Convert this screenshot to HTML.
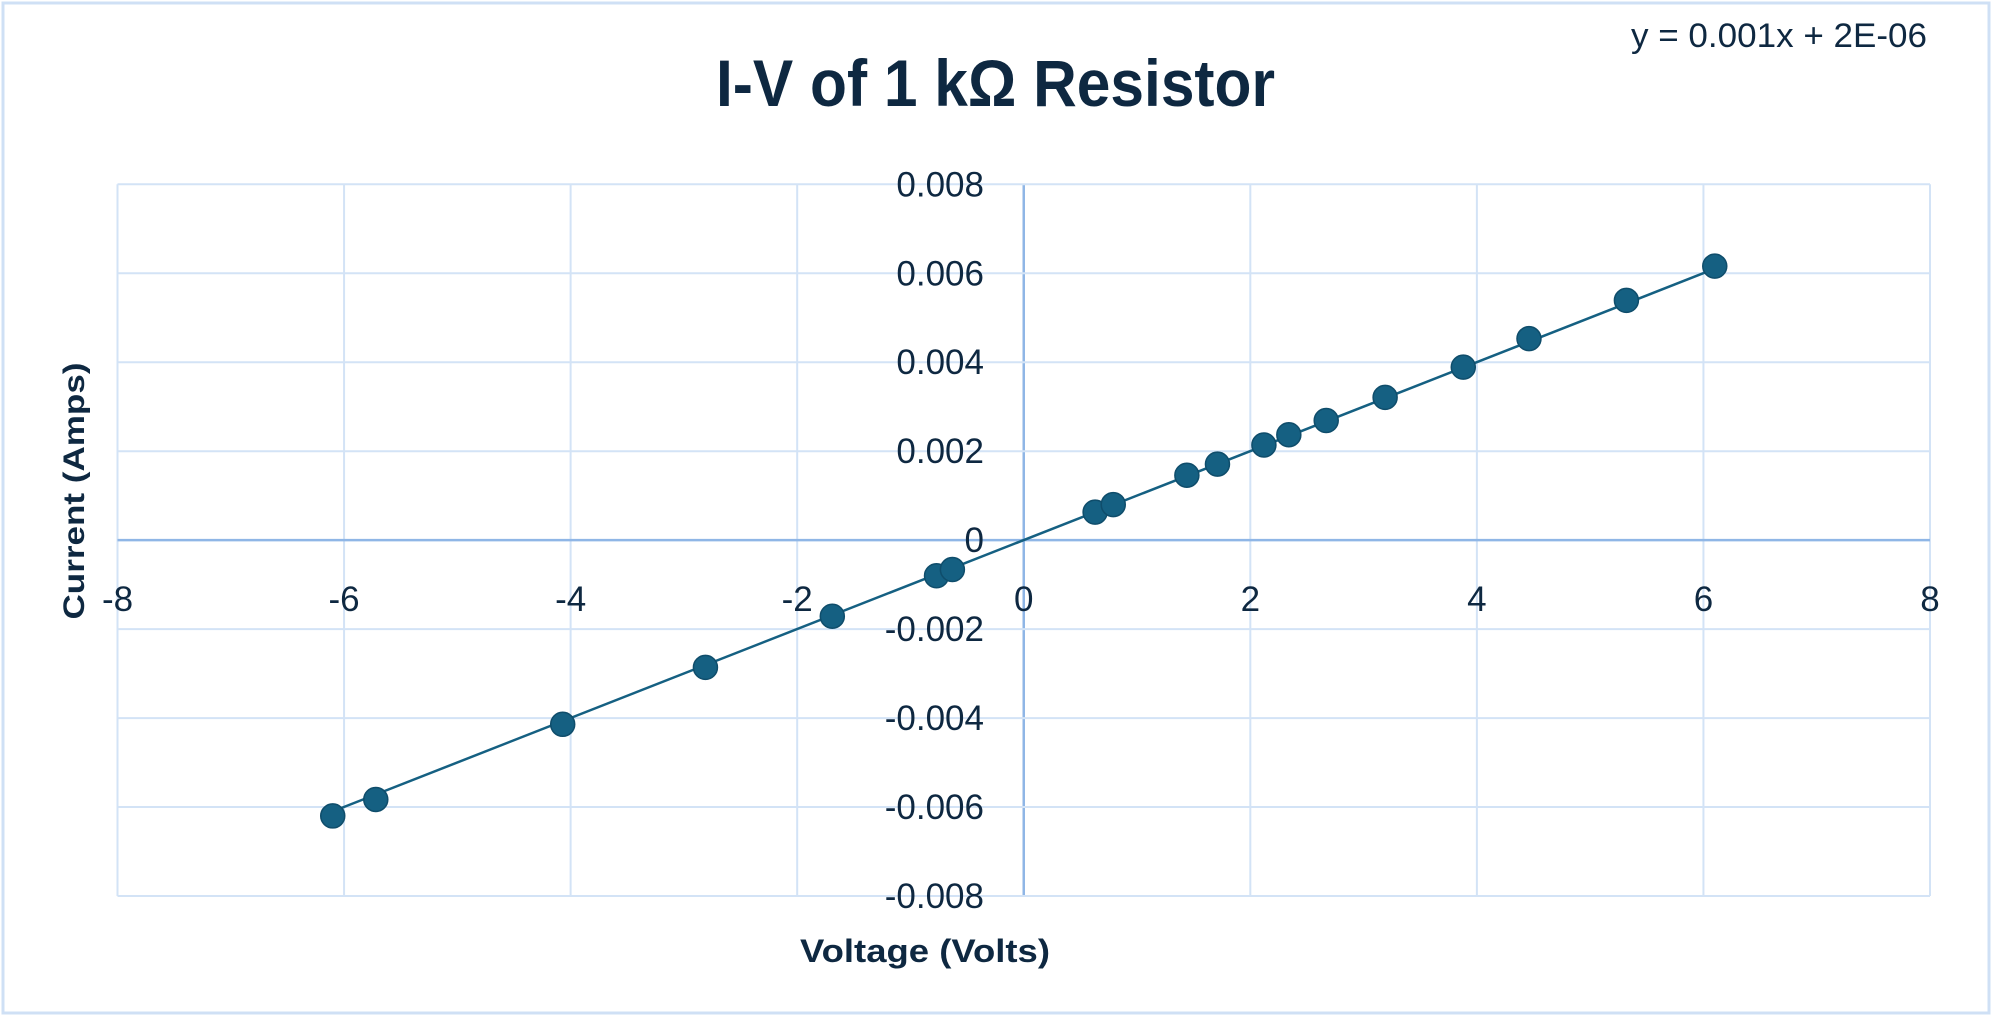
<!DOCTYPE html>
<html><head><meta charset="utf-8"><style>
html,body{margin:0;padding:0;background:#fff;}
svg{display:block;}
text{font-family:"Liberation Sans",sans-serif;fill:#0e2841;}
</style></head><body>
<svg id="chart" width="1998" height="1017" viewBox="0 0 1998 1017">
<rect x="3" y="3" width="1986" height="1010" fill="#fff" stroke="#cfe0f5" stroke-width="3"/>
<text x="716" y="106" font-size="66" font-weight="bold" textLength="559" lengthAdjust="spacingAndGlyphs">I-V of 1 kΩ Resistor</text>
<text x="1631" y="47" font-size="34" textLength="296" lengthAdjust="spacingAndGlyphs">y = 0.001x + 2E-06</text>
<g id="grid"></g>
<g id="ticks"></g>
<g id="series"></g>
<text x="925" y="962" font-size="32" font-weight="bold" text-anchor="middle" textLength="250" lengthAdjust="spacingAndGlyphs">Voltage (Volts)</text>
<text transform="translate(84,491) rotate(-90)" font-size="30" font-weight="bold" text-anchor="middle" textLength="257" lengthAdjust="spacingAndGlyphs">Current (Amps)</text>
</svg>
<script>
const xTicks=[-8,-6,-4,-2,0,2,4,6,8];
const yTicks=[-0.008,-0.006,-0.004,-0.002,0,0.002,0.004,0.006,0.008];
const yTickLabels=["-0.008","-0.006","-0.004","-0.002","0","0.002","0.004","0.006","0.008"];
const voltage=[-6.10,-5.72,-4.07,-2.81,-1.69,-0.77,-0.63,0.63,0.79,1.44,1.71,2.12,2.34,2.67,3.19,3.88,4.46,5.32,6.10];
const current=[-0.0062,-0.00583,-0.00414,-0.00286,-0.00171,-0.0008,-0.00066,0.00063,0.0008,0.00146,0.00171,0.00214,0.00237,0.00269,0.00321,0.00389,0.00453,0.00539,0.00616];
const slope=0.001, intercept=0.000002;
const L=117.5,R=1930,T=184.3,B=896;
const sx=v=>L+(v+8)/16*(R-L);
const sy=v=>B-(v+0.008)/0.016*(B-T);
const NS="http://www.w3.org/2000/svg";
function mk(tag,attrs,parent){const e=document.createElementNS(NS,tag);for(const k in attrs)e.setAttribute(k,attrs[k]);parent.appendChild(e);return e;}
const grid=document.getElementById('grid'),ticks=document.getElementById('ticks'),series=document.getElementById('series');
xTicks.forEach(v=>{
  const l=mk('line',{x1:sx(v),x2:sx(v),y1:T,y2:B,stroke:v===0?'#8fb6e6':'#d3e3f6','stroke-width':v===0?2.5:2},grid);
  
  
  const t=mk('text',{x:sx(v),y:sy(0)+71,'font-size':35,'text-anchor':'middle'},ticks);
  t.textContent=String(v);
  
  
});
yTicks.forEach((v,i)=>{
  const l=mk('line',{x1:L,x2:R,y1:sy(v),y2:sy(v),stroke:v===0?'#8fb6e6':'#d3e3f6','stroke-width':v===0?2.5:2},grid);
  
  
  const t=mk('text',{x:984,y:sy(v)+12,'font-size':35,'text-anchor':'end'},ticks);
  t.textContent=yTickLabels[i];
  
  
});
const xmin=Math.min(...voltage),xmax=Math.max(...voltage);
const tl=mk('line',{x1:sx(xmin),y1:sy(slope*xmin+intercept),x2:sx(xmax),y2:sy(slope*xmax+intercept),stroke:'#156082','stroke-width':2.5},series);


voltage.forEach((v,i)=>{
  const c=mk('circle',{cx:sx(v),cy:sy(current[i]),r:12,fill:'#156082',stroke:'#0f4d6b','stroke-width':1.5},series);
  
  
});
</script>
</body></html>
